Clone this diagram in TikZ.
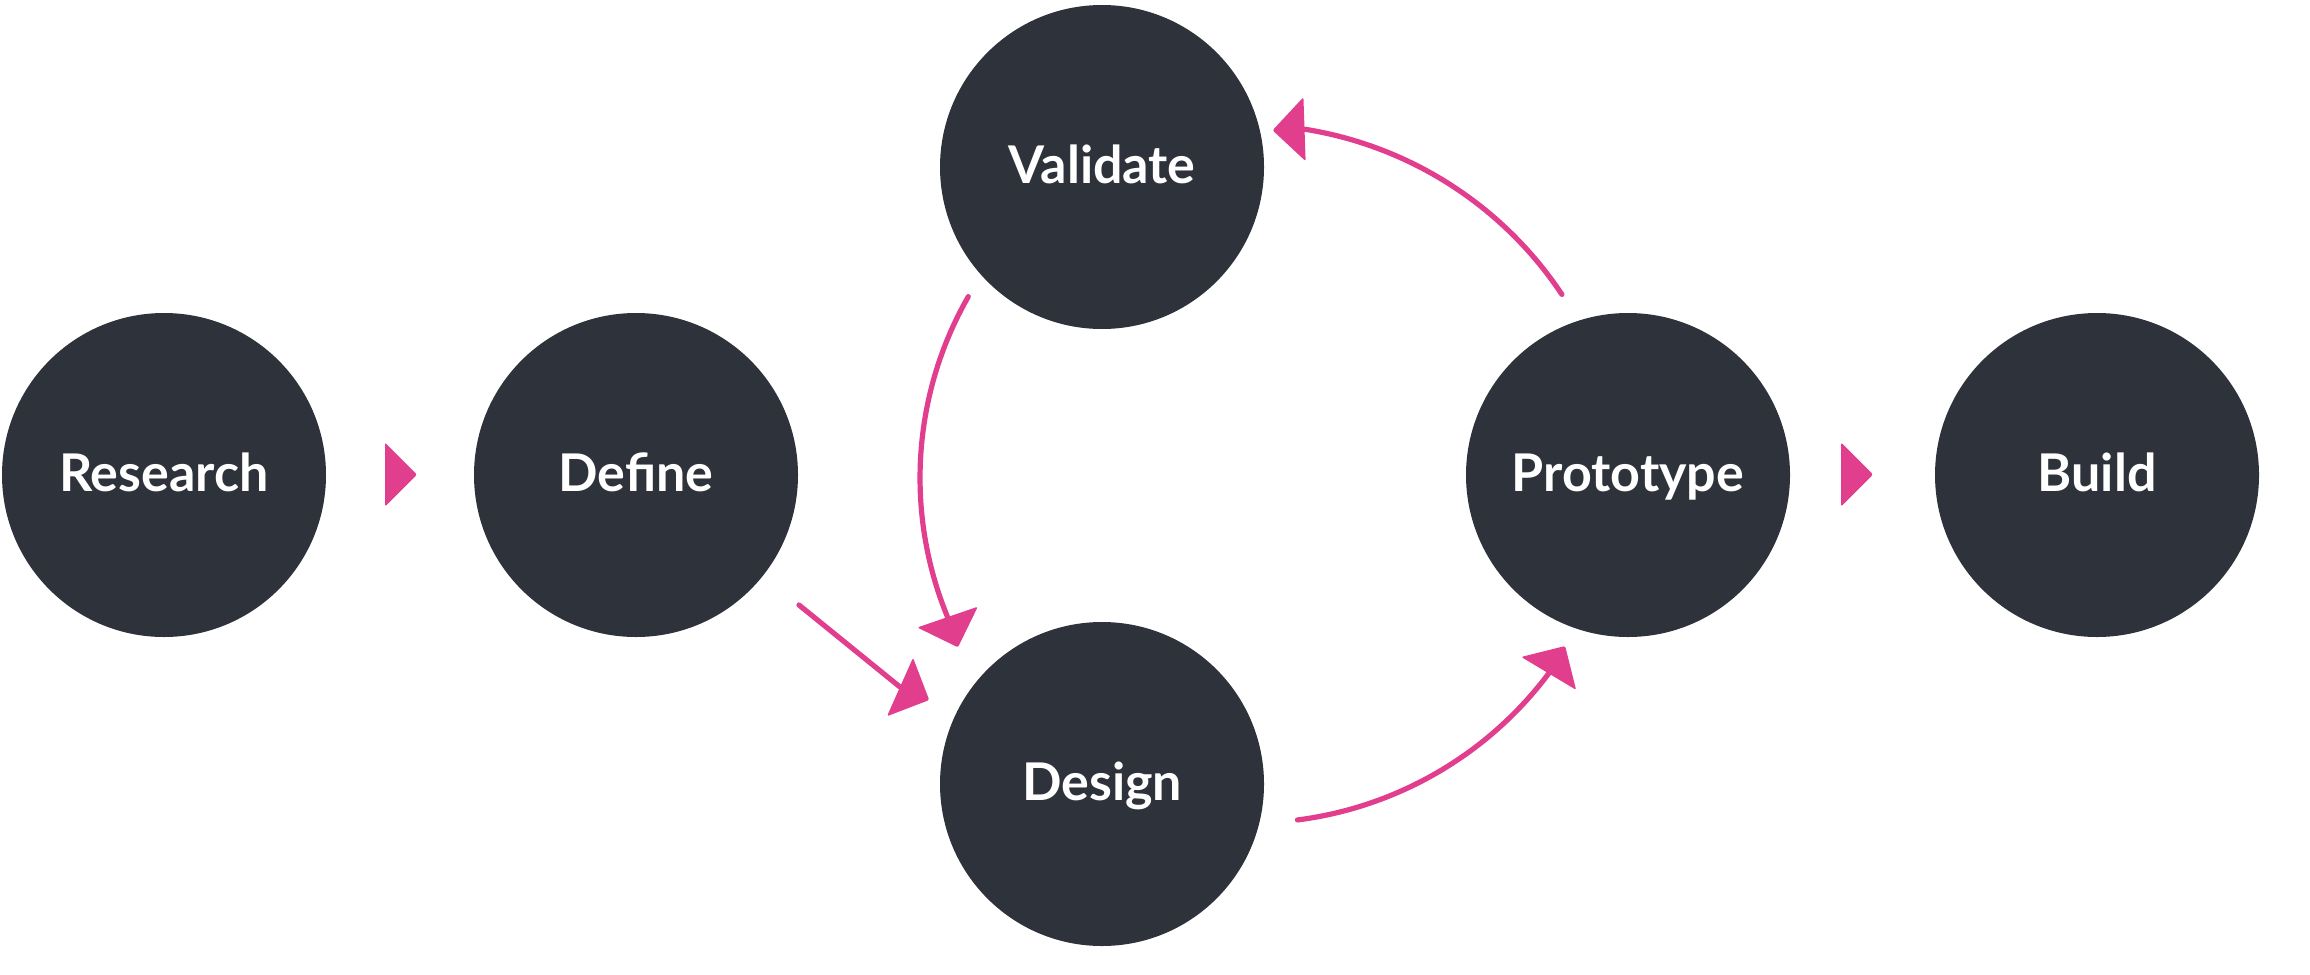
\documentclass[tikz,border=0pt]{standalone}
\usepackage{fontspec}
\newfontfamily\lblfont{Lato}
\usetikzlibrary{calc}
\definecolor{stagefill}{HTML}{2E323B}
\definecolor{pinkc}{HTML}{E13F8E}
\tikzset{
  stage/.style={circle, fill=stagefill, draw=none, minimum size=81pt, inner sep=0pt,
    text=white, font=\lblfont\bfseries\fontsize{13}{15}\selectfont, text height=8.25pt, text depth=0pt},
  flow/.style={draw=pinkc, line width=1.3pt, line cap=round},
}
\newcommand\phead[2]{%
  \fill[pinkc, rounded corners=0.5pt] (#1) ++(#2+90:32) -- ++(#2-45:45.25) -- ++(#2-135:45.25) -- cycle;}
\begin{document}
\begin{tikzpicture}[x=0.25pt,y=-0.25pt]
\useasboundingbox (0,0) rectangle (2310,974);
% stages
\node[stage] (research)  at (164,475)  {Research};
\node[stage] (define)    at (636,475)  {Define};
\node[stage] (validate)  at (1102,167) {Validate};
\node[stage] (design)    at (1102,784) {Design};
\node[stage] (prototype) at (1628,475) {Prototype};
\node[stage] (build)     at (2097,475) {Build};
% Research -> Define
\coordinate (a1) at ($(research)!0.5!(define)+(-15,-0.5)$);
\phead{a1}{0}
% Prototype -> Build
\coordinate (a2) at ($(prototype)!0.5!(build)+(-21.5,-0.5)$);
\phead{a2}{0}
% Define -> Design
\coordinate (a3s) at (799,605);
\coordinate (a3e) at (900,687);
\draw[flow] (a3s) -- (a3e);
\phead{a3e}{24}
% Validate -> Design
\path (1285,478) ++(209.8:365) coordinate (a4s);
\draw[flow] (a4s) arc[start angle=209.8, end angle=157.6, radius=365] coordinate (a4e);
\phead{a4e}{71}
% Design -> Prototype
\path (1250,450) ++(82.7:373) coordinate (a5s);
\draw[flow] (a5s) arc[start angle=82.7, end angle=36.8, radius=373] coordinate (a5e);
\phead{a5e}{-59}
% Prototype -> Validate
\path (1245,505) ++(-33.6:380.5) coordinate (a6s);
\draw[flow] (a6s) arc[start angle=-33.6, end angle=-81, radius=380.5] coordinate (a6e);
\phead{a6e}{178}
\end{tikzpicture}
\end{document}
